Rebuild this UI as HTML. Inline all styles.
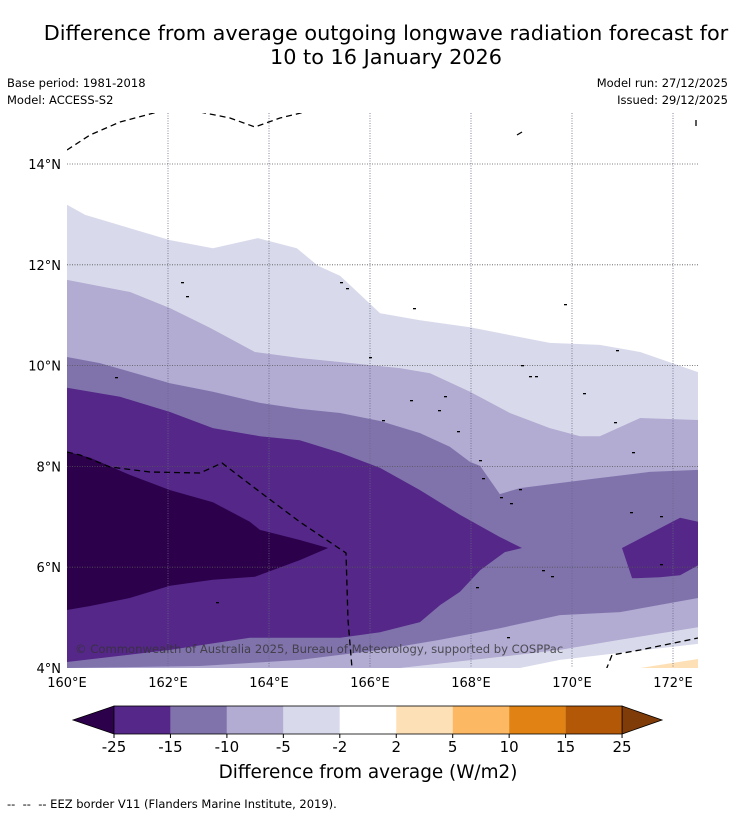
<!DOCTYPE html>
<html><head><meta charset="utf-8">
<style>
body{margin:0;background:#fff;font-family:"DejaVu Sans","Liberation Sans",sans-serif;}
#wrap{position:relative;width:736px;height:816px;overflow:hidden;background:#fff;}
.t{position:absolute;color:#000;white-space:nowrap;}
</style></head>
<body>
<div id="wrap">
<div class="t" style="left:0;width:772px;top:22px;text-align:center;font-size:20.8px;line-height:23.5px;">Difference from average outgoing longwave radiation forecast for<br>10 to 16 January 2026</div>
<div class="t" style="left:7px;top:76px;font-size:11.5px;">Base period: 1981-2018</div>
<div class="t" style="left:7px;top:93px;font-size:11.5px;">Model: ACCESS-S2</div>
<div class="t" style="right:8px;top:76px;font-size:11.5px;text-align:right;">Model run: 27/12/2025</div>
<div class="t" style="right:8px;top:93px;font-size:11.5px;text-align:right;">Issued: 29/12/2025</div>
<svg id="map" width="736" height="816" style="position:absolute;left:0;top:0;"></svg>
<div class="t" style="left:7px;top:797px;font-size:11.5px;">-- &nbsp;-- &nbsp;-- EEZ border V11 (Flanders Marine Institute, 2019).</div>
</div>
<script>
// ---- data (lon/lat of contour boundaries) ----
const topM2Lon=[160,160.36,162.04,162.89,163.78,164.55,164.97,165.41,166.2,166.99,167.98,169.56,170.55,171.35,172.5];
const topM2Lat=[13.19,12.99,12.49,12.33,12.53,12.33,11.98,11.78,11.04,10.9,10.76,10.45,10.41,10.27,9.87];
const topM5Lon=[160,161.25,162.04,162.83,163.72,164.61,166.59,167.19,167.98,168.77,169.56,170.16,170.55,171.35,172.5];
const topM5Lat=[11.7,11.46,11.14,10.75,10.27,10.15,9.95,9.85,9.48,9.06,8.76,8.6,8.6,8.96,8.92];
const topM10Lon=[160,160.65,162.04,162.89,163.82,164.61,165.41,166.2,166.99,167.58,167.98,168.18,168.57,168.97,169.76,170.55,171.54,172.5];
const topM10Lat=[10.17,10.05,9.65,9.48,9.26,9.14,9.06,8.9,8.66,8.39,8.09,8.01,7.45,7.57,7.67,7.77,7.89,7.93];
const tongueLon=[160,161.05,162.04,162.89,163.82,164.61,165.41,166.2,166.99,167.78,168.57,169.01,168.67,168.18,167.78,167.39,166.99,166.2,165.41,164.61,163.62,162.04,160];
const tongueLat=[9.56,9.38,9.08,8.76,8.6,8.52,8.27,7.97,7.53,7.04,6.6,6.38,6.3,5.94,5.51,5.25,4.91,4.71,4.6,4.6,4.6,4.36,4.12];
const coreLon=[160,160.46,161.25,162.04,162.89,163.62,163.82,164.61,165.17,164.61,163.72,162.89,162.04,161.25,160.46,160];
const coreLat=[8.29,8.17,7.83,7.53,7.29,6.9,6.74,6.54,6.38,6.14,5.81,5.75,5.63,5.39,5.23,5.15];
const lowM10Lon=[160,162.63,163.62,164.61,166.2,167.39,168.57,169.76,170.95,172.5];
const lowM10Lat=[4.0,4.04,4.1,4.16,4.36,4.56,4.79,5.05,5.11,5.39];
const lowM5Lon=[166.59,168.57,169.76,170.95,172.5];
const lowM5Lat=[4.0,4.22,4.36,4.56,4.81];
const lowM2Lon=[168.97,169.76,170.95,172.5];
const lowM2Lat=[4.0,4.16,4.3,4.48];
const orangeLon=[171.35,172.5];
const orangeLat=[4.0,4.18];
const blobLon=[170.99,172.14,172.5,172.5,172.14,171.74,171.19];
const blobLat=[6.38,6.98,6.9,6.04,5.84,5.8,5.78];
const lonTicks=[160,162,164,166,168,170,172];
const latTicks=[4,6,8,10,12,14];
const cbLabels=["-25","-15","-10","-5","-2","2","5","10","15","25"];
const cbColors=["#542788","#8073ac","#b2abd2","#d8daeb","#ffffff","#fee0b6","#fdb863","#e08214","#b35806"];

// ---- axes ----
const X0=67,X1=698,Y0=113,Y1=668;
const LON0=160,LAT0=4,PXD=50.5,PYD=50.4;
const xs=lon=>X0+(lon-LON0)*PXD;
const ys=lat=>Y1-(lat-LAT0)*PYD;
const FONT='DejaVu Sans, Liberation Sans, sans-serif';
const NS="http://www.w3.org/2000/svg";
const svg=document.getElementById('map');
function mk(tag,attrs,parent){const e=document.createElementNS(NS,tag);for(const k in attrs)e.setAttribute(k,attrs[k]);(parent||svg).appendChild(e);return e;}
const clip=mk('clipPath',{id:'pc'});mk('rect',{x:X0,y:Y0,width:X1-X0,height:Y1-Y0},clip);
const g=mk('g',{'clip-path':'url(#pc)'});


function pts(lons,lats){return lons.map((l,i)=>xs(l).toFixed(1)+','+ys(lats[i]).toFixed(1));}
function below(lons,lats,col,name){
  const p=pts(lons,lats);
  p.push(xs(lons[lons.length-1])+','+(Y1+5));p.push(xs(lons[0])+','+(Y1+5));
  const e=mk('polygon',{points:p.join(' '),fill:col},g);
  
  
}
function poly(lons,lats,col,name){
  const e=mk('polygon',{points:pts(lons,lats).join(' '),fill:col},g);
  
  
}
below(topM2Lon,topM2Lat,'#d8daeb','band-minus2-to-minus5');
below(topM5Lon,topM5Lat,'#b2abd2','band-minus5-to-minus10');
below(topM10Lon,topM10Lat,'#8073ac','band-minus10-to-minus15');
poly(tongueLon,tongueLat,'#542788','band-minus15-to-minus25');
poly(coreLon,coreLat,'#2d004b','band-below-minus25');
below(lowM10Lon,lowM10Lat,'#b2abd2','band-south-minus5-to-minus10');
below(lowM5Lon,lowM5Lat,'#d8daeb','band-south-minus2-to-minus5');
below(lowM2Lon,lowM2Lat,'#ffffff','band-south-neutral');
below(orangeLon,orangeLat,'#fee0b6','band-south-2-to-5');
poly(blobLon,blobLat,'#542788','band-east-minus15-blob');

lonTicks.forEach(l=>{if(l>LON0){const e=mk('line',{x1:xs(l),x2:xs(l),y1:Y0,y2:Y1,stroke:'#666688','stroke-width':0.8,'stroke-dasharray':'1,1.5'},g);

}});
latTicks.forEach(l=>{if(l>LAT0){const e=mk('line',{x1:X0,x2:X1,y1:ys(l),y2:ys(l),stroke:'#555','stroke-width':0.8,'stroke-dasharray':'1,1.5'},g);

}});

const eez=[
 [[67,150],[90,135],[120,122],[150,114],[165,110]],
 [[200,112],[230,118],[255,127],[280,118],[305,112]],
 [[67,452],[80,455],[110,467],[150,472],[200,473],[222,463],[260,492],[300,522],[346,553],[348,620],[352,668]],
 [[606,670],[612,655],[640,650],[698,638]],
 [[517,135],[522,132]],[[696,120],[696,126]]
];
eez.forEach(pl=>{const e=mk('polyline',{points:pl.map(p=>p.join(',')).join(' '),fill:'none',stroke:'#000','stroke-width':1.3,'stroke-dasharray':'6,4'},g);

});
[[181,282],[186,296],[340,282],[346,288],[413,308],[564,304],[369,357],[521,365],[529,376],[535,376],[583,393],[616,350],[410,400],[438,410],[444,396],[457,431],[382,420],[614,422],[632,452],[479,460],[482,478],[500,497],[510,503],[519,489],[551,576],[542,570],[476,587],[507,637],[216,602],[115,377],[630,512],[660,516],[660,564]].forEach(p=>{
 const e=mk('rect',{x:p[0],y:p[1],width:3,height:1.3,fill:'#000'},g);
 
 });

const cp=mk('text',{x:75,y:653,'font-size':11.6,fill:'#333','fill-opacity':0.8,'font-family':FONT});
cp.textContent='© Commonwealth of Australia 2025, Bureau of Meteorology, supported by COSPPac';



lonTicks.forEach(l=>{const t=mk('text',{x:xs(l),y:687,'font-size':13,'text-anchor':'middle','font-family':FONT});t.textContent=l+'°E';

});
latTicks.forEach(l=>{const t=mk('text',{x:61,y:ys(l)+5,'font-size':13,'text-anchor':'end','font-family':FONT});t.textContent=l+'°N';

});

const CB0=114,CBW=56.45,CBY=706,CBH=28;
const cb=mk('g',{});


const lt=mk('polygon',{points:`73,${CBY+CBH/2} ${CB0},${CBY} ${CB0},${CBY+CBH}`,fill:'#2d004b',stroke:'#000','stroke-width':0.8},cb);


const R=CB0+CBW*cbColors.length;
const rt=mk('polygon',{points:`${R},${CBY} ${R+40},${CBY+CBH/2} ${R},${CBY+CBH}`,fill:'#7f3b08',stroke:'#000','stroke-width':0.8},cb);


cbColors.forEach((c,i)=>{const r=mk('rect',{x:CB0+i*CBW,y:CBY,width:CBW,height:CBH,fill:c},cb);

});
mk('rect',{x:CB0,y:CBY,width:R-CB0,height:CBH,fill:'none',stroke:'#000','stroke-width':0.8},cb);
cbLabels.forEach((s,i)=>{const x=CB0+i*CBW;mk('line',{x1:x,x2:x,y1:CBY+CBH,y2:CBY+CBH+4,stroke:'#000'},cb);
const t=mk('text',{x:x,y:752,'font-size':15,'text-anchor':'middle','font-family':FONT},cb);t.textContent=s;

});
const ct=mk('text',{x:368,y:778,'font-size':18.4,'text-anchor':'middle','font-family':FONT},cb);
ct.textContent='Difference from average (W/m2)';


</script>
</body></html>
